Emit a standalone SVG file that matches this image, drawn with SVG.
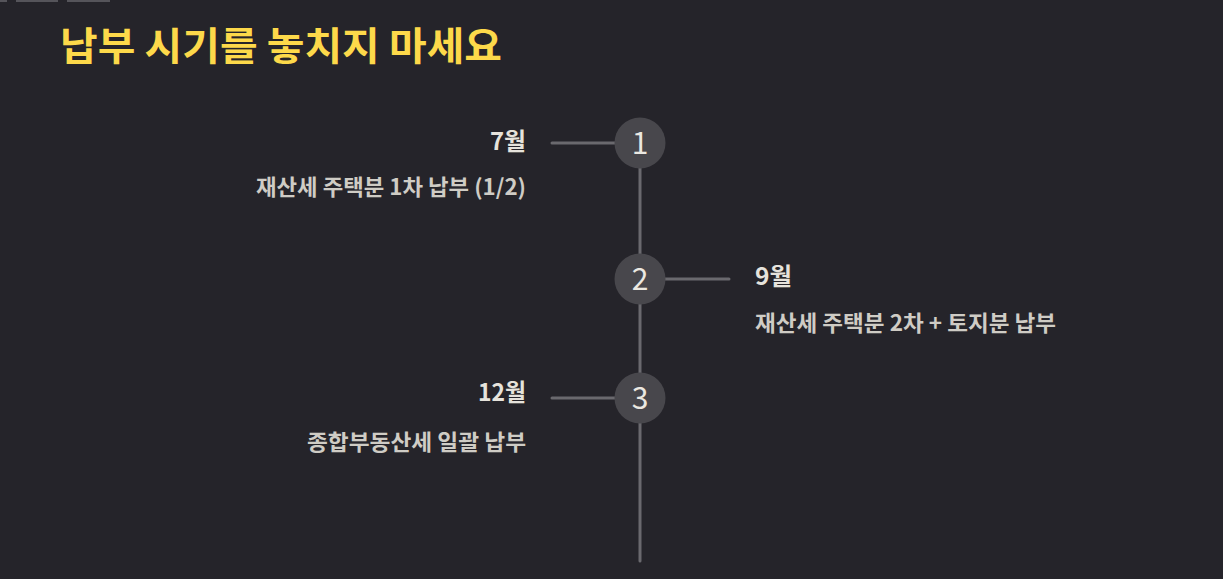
<svg xmlns="http://www.w3.org/2000/svg" width="1223" height="579" viewBox="0 0 1223 579">
<style>
.title{font-family:"Noto Sans CJK KR","Noto Sans",sans-serif;font-weight:700;font-size:39px;fill:#fdd94a}
.month{font-family:"Noto Sans CJK KR","Noto Sans",sans-serif;font-weight:700;font-size:24px;fill:#e6e3dc}
.desc{font-family:"Noto Sans CJK KR","Noto Sans",sans-serif;font-weight:700;font-size:22px;fill:#cfccc5}
.num{font-family:"Noto Sans CJK KR","Noto Sans",sans-serif;font-size:30px;fill:#ebe8e1;text-anchor:middle}
.dot{fill:#48474c}
.ln{stroke:#6a696e;stroke-width:3;stroke-linecap:round;fill:none}
</style>
<rect width="1223" height="579" fill="#25242a"/>
<rect x="0" y="0" width="7" height="2" fill="#55545a"/>
<rect x="16" y="0" width="42" height="2" fill="#55545a"/>
<rect x="67" y="0" width="43" height="2" fill="#55545a"/>
<text class="title" x="60" y="60" textLength="442" lengthAdjust="spacingAndGlyphs">납부 시기를 놓치지 마세요</text>
<g id="connectors">
<line class="ln" x1="640" y1="160" x2="640" y2="561"/>
<line class="ln" x1="552" y1="143" x2="620" y2="143"/>
<line class="ln" x1="660" y1="279" x2="729" y2="279"/>
<line class="ln" x1="552" y1="398" x2="620" y2="398"/>
</g>
<g id="step1">
<circle class="dot" cx="640" cy="143" r="25.5"/>
<text class="num" x="640" y="154">1</text>
<text class="month" x="526" y="150" text-anchor="end" textLength="36" lengthAdjust="spacingAndGlyphs">7월</text>
<text class="desc" x="526" y="195" text-anchor="end" textLength="270" lengthAdjust="spacingAndGlyphs">재산세 주택분 1차 납부 (1/2)</text>
</g>
<g id="step2">
<circle class="dot" cx="640" cy="279" r="25.5"/>
<text class="num" x="640" y="290">2</text>
<text class="month" x="755" y="285" textLength="37" lengthAdjust="spacingAndGlyphs">9월</text>
<text class="desc" x="755" y="331" textLength="301" lengthAdjust="spacingAndGlyphs">재산세 주택분 2차 + 토지분 납부</text>
</g>
<g id="step3">
<circle class="dot" cx="640" cy="398" r="25.5"/>
<text class="num" x="640" y="409">3</text>
<text class="month" x="526" y="401" text-anchor="end" textLength="48" lengthAdjust="spacingAndGlyphs">12월</text>
<text class="desc" x="526" y="450" text-anchor="end" textLength="219" lengthAdjust="spacingAndGlyphs">종합부동산세 일괄 납부</text>
</g>
</svg>
